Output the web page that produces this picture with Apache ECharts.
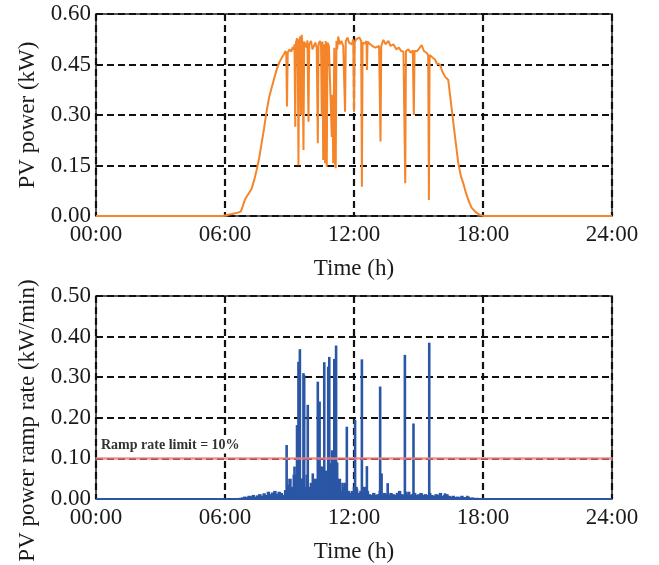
<!DOCTYPE html>
<html>
<head>
<meta charset="utf-8">
<script src="https://cdn.jsdelivr.net/npm/echarts@6/dist/echarts.min.js"></script>
<style>
  html, body { margin: 0; padding: 0; background: #fff; }
  #chart { width: 659px; height: 565px; }
</style>
</head>
<body>
<div id="chart"></div>
<script>
// x axis in minutes since midnight
const xTickLabels = ['00:00', '06:00', '12:00', '18:00', '24:00'];

// PV power (kW)
const powerMin = [0, 355, 365, 380, 395, 404, 410, 416, 422, 428, 434, 441, 448, 455, 462, 469, 476, 483, 490, 497,
  504, 511, 518, 524, 529, 531, 533, 535, 540, 545, 549, 552, 554, 556, 558, 561, 563, 565, 567, 570,
  572, 574, 576, 579, 581, 585, 588, 590, 593, 595, 600, 604, 608, 612, 616, 619, 621, 625, 628, 630,
  632, 634, 636, 639, 641, 644, 646, 650, 655, 658, 660, 662, 665, 667, 669, 671, 673, 676, 680, 685,
  690, 695, 697, 702, 706, 710, 714, 718, 720, 722, 726, 730, 735, 740, 742, 744, 750, 755, 756, 758,
  765, 770, 774, 780, 785, 790, 794, 796, 802, 808, 816, 822, 830, 838, 845, 852, 858, 861, 863, 865,
  872, 878, 884, 887, 889, 896, 902, 909, 915, 922, 927, 929, 931, 940, 946, 951, 956, 960, 966, 974,
  983, 988, 993, 1002, 1011, 1018, 1025, 1032, 1039, 1048, 1058, 1070, 1081, 1440];
const powerVal = [0, 0, 0.003, 0.006, 0.01, 0.013, 0.03, 0.05, 0.06, 0.07, 0.08, 0.105, 0.135, 0.17, 0.215, 0.26, 0.31, 0.352, 0.38, 0.408,
  0.434, 0.455, 0.469, 0.48, 0.49, 0.482, 0.325, 0.485, 0.495, 0.488, 0.502, 0.493, 0.51, 0.265, 0.515, 0.528, 0.505, 0.151, 0.522, 0.533,
  0.30, 0.538, 0.512, 0.196, 0.518, 0.515, 0.50, 0.522, 0.28, 0.51, 0.52, 0.495, 0.505, 0.515, 0.50, 0.216, 0.51, 0.52, 0.505, 0.30,
  0.518, 0.166, 0.51, 0.157, 0.52, 0.146, 0.515, 0.505, 0.51, 0.235, 0.36, 0.157, 0.50, 0.157, 0.142, 0.52, 0.495, 0.533, 0.51, 0.52,
  0.505, 0.31, 0.52, 0.53, 0.515, 0.52, 0.51, 0.525, 0.31, 0.515, 0.525, 0.52, 0.53, 0.52, 0.087, 0.515, 0.512, 0.52, 0.434, 0.518,
  0.51, 0.515, 0.503, 0.50, 0.495, 0.505, 0.221, 0.505, 0.523, 0.51, 0.52, 0.505, 0.51, 0.495, 0.50, 0.49, 0.488, 0.492, 0.097, 0.49,
  0.495, 0.485, 0.492, 0.30, 0.49, 0.49, 0.498, 0.508, 0.49, 0.485, 0.478, 0.0475, 0.478, 0.47, 0.465, 0.453, 0.455, 0.45, 0.43, 0.414,
  0.404, 0.36, 0.315, 0.235, 0.157, 0.12, 0.097, 0.07, 0.0475, 0.025, 0.013, 0.004, 0, 0];

// ramp rate spikes (kW/min), lower panel
const spikeMin = [532, 554, 561, 565, 569, 575, 579, 581, 591, 594, 605, 619, 624, 627, 637, 648, 651, 655, 659, 665,
  670, 673, 680, 688, 695, 700, 705, 712, 723, 727, 742, 745, 756, 762, 775, 793, 797, 814, 847, 862,
  874, 886, 902, 930, 953, 974, 1016, 1036];
const spikeVal = [0.133, 0.08, 0.182, 0.338, 0.369, 0.05, 0.31, 0.305, 0.232, 0.03, 0.063, 0.289, 0.24, 0.08, 0.337, 0.326, 0.35, 0.088, 0.12, 0.345,
  0.378, 0.09, 0.03, 0.04, 0.04, 0.178, 0.02, 0.01, 0.195, 0.03, 0.344, 0.03, 0.081, 0.01, 0.01, 0.277, 0.063, 0.039, 0.018, 0.355,
  0.018, 0.186, 0.01, 0.385, 0.008, 0.014, 0.004, 0.008];

// low-level ramp noise, one value every 6 min from 06:36
const noiseStart = 396;
const noiseStep = 6;
const noiseVal = [0.002, 0.003, 0.004, 0.006, 0.005, 0.008, 0.007, 0.01, 0.006, 0.009,
  0.012, 0.008, 0.014, 0.01, 0.018, 0.012, 0.016, 0.02, 0.013, 0.018,
  0.015, 0.01, 0.022, 0.035, 0.05, 0.03, 0.06, 0.04, 0.07, 0.05,
  0.045, 0.03, 0.06, 0.025, 0.04, 0.02, 0.05, 0.035, 0.06, 0.08,
  0.05, 0.07, 0.04, 0.06, 0.09, 0.07, 0.03, 0.05, 0.02, 0.03,
  0.025, 0.02, 0.015, 0.02, 0.03, 0.025, 0.015, 0.02, 0.012, 0.03,
  0.02, 0.012, 0.01, 0.015, 0.01, 0.012, 0.02, 0.01, 0.015, 0.012,
  0.01, 0.015, 0.012, 0.01, 0.015, 0.02, 0.012, 0.01, 0.018, 0.012,
  0.01, 0.012, 0.015, 0.01, 0.012, 0.015, 0.01, 0.012, 0.01, 0.015,
  0.01, 0.008, 0.012, 0.01, 0.015, 0.008, 0.01, 0.012, 0.008, 0.006,
  0.008, 0.005, 0.006, 0.004, 0.008, 0.005, 0.004, 0.006, 0.003, 0.004,
  0.002, 0.003, 0.001];

const rampBaseMin = [0, 1440];
const rampBaseVal = [0, 0];
const rampLimit = 0.10;

const font = 'Liberation Serif';
const chart = echarts.init(document.getElementById('chart'));

const gridLine = { show: true, lineStyle: { color: '#111', width: 2.2, type: [7, 4] } };
function xAx(gridIndex) {
  return {
    type: 'value', gridIndex: gridIndex, min: 0, max: 1440, interval: 360,
    name: 'Time (h)', nameLocation: 'middle', nameGap: 41,
    nameTextStyle: { fontFamily: font, fontSize: 23, color: '#1a1a1a' },
    axisLine: { show: false }, axisTick: { show: false },
    axisLabel: { fontFamily: font, fontSize: 23, color: '#1a1a1a', margin: 7,
      formatter: function (v) { return xTickLabels[Math.round(v / 360)]; } },
    splitLine: gridLine
  };
}

const noiseData = noiseVal.map(function (v, i) { return [noiseStart + i * noiseStep, v]; });
const spikeData = spikeMin.map(function (m, i) { return [m, spikeVal[i]]; });

chart.setOption({
  animation: false,
  grid: [
    { left: 96, top: 14, width: 516, height: 202, show: true, borderColor: '#222', borderWidth: 1.5 },
    { left: 96, top: 296, width: 516, height: 203, show: true, borderColor: '#222', borderWidth: 1.5 }
  ],
  xAxis: [xAx(0), xAx(1)],
  yAxis: [
    {
      type: 'value', gridIndex: 0, min: 0, max: 0.6, interval: 0.15,
      name: 'PV power (kW)', nameLocation: 'middle', nameGap: 57,
      nameTextStyle: { fontFamily: font, fontSize: 23, color: '#1a1a1a' },
      axisLine: { show: false }, axisTick: { show: false },
      axisLabel: { fontFamily: font, fontSize: 23, color: '#1a1a1a', margin: 5,
        formatter: function (v) { return v.toFixed(2); } },
      splitLine: gridLine
    },
    {
      type: 'value', gridIndex: 1, min: 0, max: 0.5, interval: 0.1,
      name: 'PV power ramp rate (kW/min)', nameLocation: 'middle', nameGap: 57,
      nameTextStyle: { fontFamily: font, fontSize: 23, color: '#1a1a1a', padding: [0, 46, 0, 0] },
      axisLine: { show: false }, axisTick: { show: false },
      axisLabel: { fontFamily: font, fontSize: 23, color: '#1a1a1a', margin: 5,
        formatter: function (v) { return v.toFixed(2); } },
      splitLine: gridLine
    }
  ],
  series: [
    {
      name: 'PV power', type: 'line', xAxisIndex: 0, yAxisIndex: 0,
      data: powerMin.map(function (m, i) { return [m, powerVal[i]]; }),
      showSymbol: false, lineStyle: { color: '#f5852a', width: 2 }
    },
    {
      name: 'ramp base', type: 'line', xAxisIndex: 1, yAxisIndex: 1,
      data: rampBaseMin.map(function (m, i) { return [m, rampBaseVal[i]]; }),
      showSymbol: false, lineStyle: { color: '#2a56a5', width: 2 }
    },
    {
      name: 'ramp noise', type: 'bar', xAxisIndex: 1, yAxisIndex: 1,
      data: noiseData, barWidth: 3.5, barGap: '-100%', itemStyle: { color: '#2a56a5' }
    },
    {
      name: 'ramp rate', type: 'bar', xAxisIndex: 1, yAxisIndex: 1,
      data: spikeData, barWidth: 2.6, barGap: '-100%', itemStyle: { color: '#2a56a5' },
      markLine: {
        silent: true, symbol: 'none',
        lineStyle: { color: 'rgba(240,125,125,0.85)', width: 2.5, type: 'solid' },
        label: { position: 'insideStartTop', formatter: 'Ramp rate limit = 10%',
          fontFamily: font, fontSize: 14, fontWeight: 'bold', color: '#333', distance: [5, 5],
          backgroundColor: '#fff', padding: [1, 0, 1, 0] },
        data: [{ yAxis: rampLimit }]
      }
    }
  ]
});
</script>
</body>
</html>
